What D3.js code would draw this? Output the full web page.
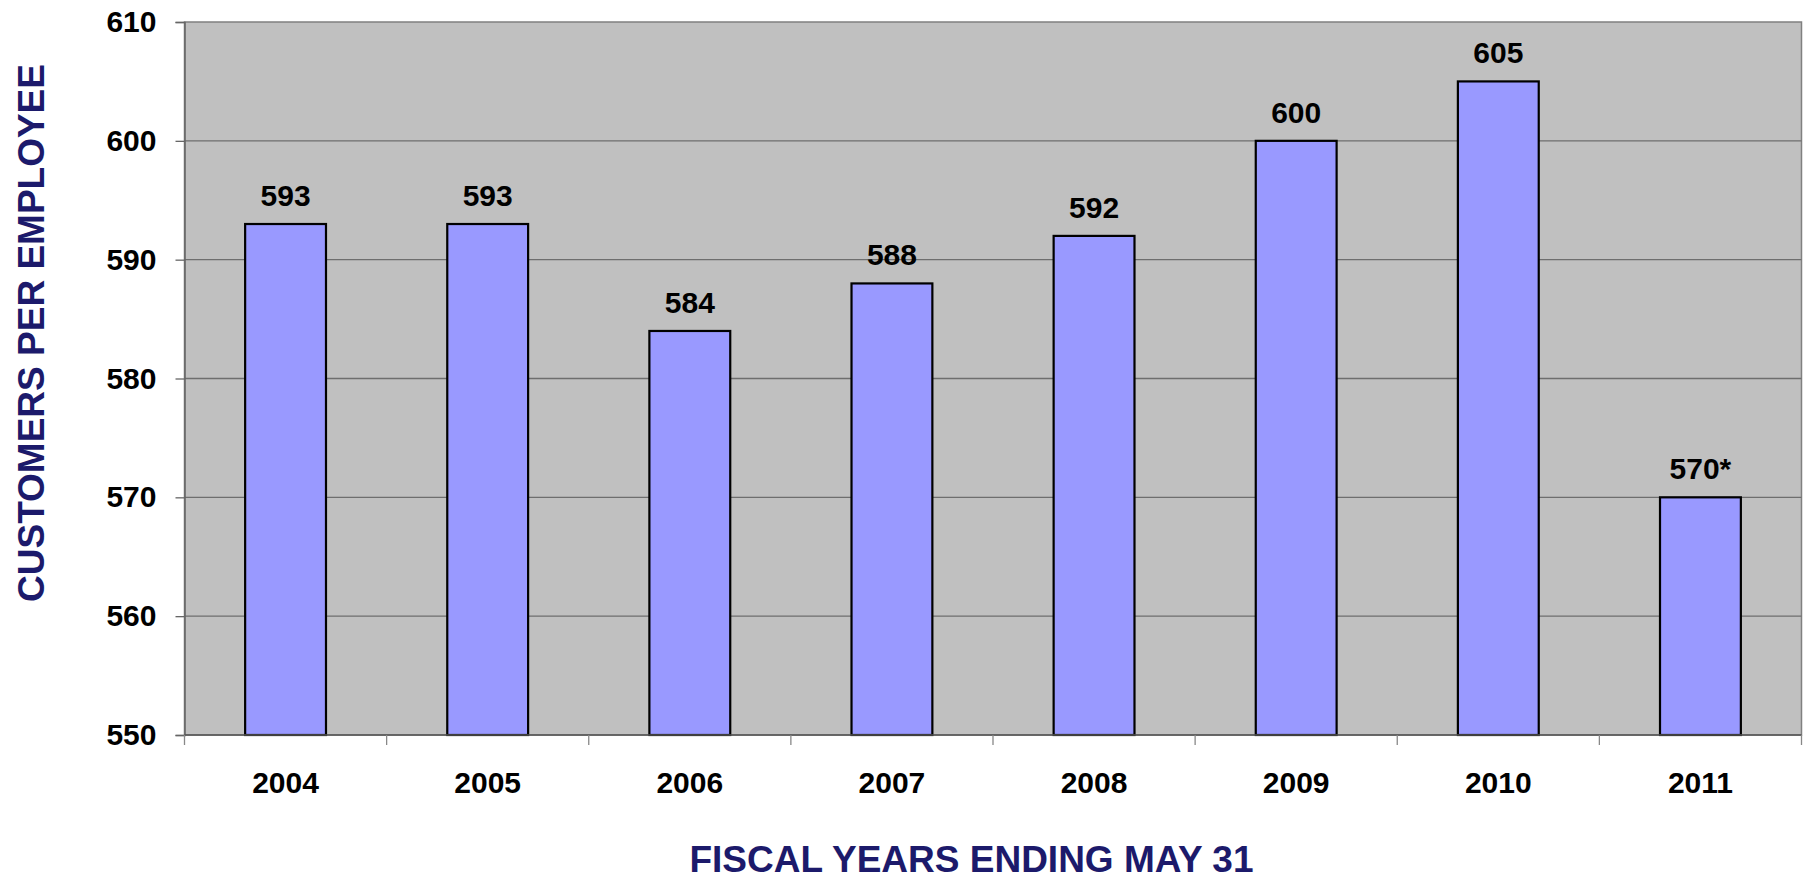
<!DOCTYPE html>
<html>
<head>
<meta charset="utf-8">
<script src="https://cdn.jsdelivr.net/npm/d3@7/dist/d3.min.js"></script>
<style>
  html, body { margin: 0; padding: 0; background: #ffffff; }
  svg { display: block; font-family: "Liberation Sans", Arial, sans-serif; font-weight: bold; }
</style>
</head>
<body>
<svg id="chart" width="1805" height="880"></svg>
<script>
// Customers per employee, by fiscal year
const years = ["2004", "2005", "2006", "2007", "2008", "2009", "2010", "2011"];
const customersPerEmployee = [593, 593, 584, 588, 592, 600, 605, 570];
const valueLabels = ["593", "593", "584", "588", "592", "600", "605", "570*"];
const yTicks = [550, 560, 570, 580, 590, 600, 610];

const plot = { left: 184.5, right: 1801.5, top: 22, bottom: 735 };
const svg = d3.select("#chart");

const x = d3.scaleBand()
  .domain(years)
  .range([plot.left, plot.right])
  .paddingInner(0.6)
  .paddingOuter(0.3);

const y = d3.scaleLinear()
  .domain([550, 610])
  .range([plot.bottom, plot.top]);

// plot background
svg.append("rect")
  .attr("x", plot.left).attr("y", plot.top)
  .attr("width", plot.right - plot.left).attr("height", plot.bottom - plot.top)
  .attr("fill", "#c0c0c0")
  .attr("stroke", "#808080").attr("stroke-width", 1.5);

// horizontal gridlines
svg.append("g")
  .selectAll("line")
  .data(yTicks.slice(1, -1))
  .join("line")
  .attr("x1", plot.left).attr("x2", plot.right)
  .attr("y1", d => y(d)).attr("y2", d => y(d))
  .attr("stroke", "#6e6e6e").attr("stroke-width", 1.3);

// y axis
const yAxis = svg.append("g")
  .attr("transform", `translate(${plot.left},0)`)
  .call(d3.axisLeft(y).tickValues(yTicks).tickSize(9).tickPadding(19).tickFormat(d3.format("d")));
yAxis.select(".domain").attr("stroke", "#666").attr("stroke-width", 1.5);
yAxis.selectAll(".tick line").attr("stroke", "#666").attr("stroke-width", 1.3);
yAxis.selectAll(".tick text")
  .attr("fill", "#000")
  .style("font-size", "30px")
  .style("font-family", "'Liberation Sans', Arial, sans-serif")
  .style("font-weight", "bold");

// bars
svg.append("g")
  .selectAll("rect")
  .data(years)
  .join("rect")
  .attr("x", d => x(d))
  .attr("y", (d, i) => y(customersPerEmployee[i]))
  .attr("width", x.bandwidth())
  .attr("height", (d, i) => y(550) - y(customersPerEmployee[i]))
  .attr("fill", "#9999ff")
  .attr("stroke", "#000")
  .attr("stroke-width", 2.2);

// value labels above bars
svg.append("g")
  .selectAll("text")
  .data(years)
  .join("text")
  .attr("x", d => x(d) + x.bandwidth() / 2)
  .attr("y", (d, i) => y(customersPerEmployee[i]) - 18)
  .attr("text-anchor", "middle")
  .attr("fill", "#000")
  .style("font-size", "30px")
  .text((d, i) => valueLabels[i]);

// x axis: ticks sit on category boundaries
const xAxisG = svg.append("g").attr("transform", `translate(0,${plot.bottom})`);
xAxisG.append("line")
  .attr("x1", plot.left).attr("x2", plot.right)
  .attr("stroke", "#555").attr("stroke-width", 1.5);
const boundaries = d3.range(years.length + 1).map(i => plot.left + i * x.step());
xAxisG.selectAll("line.tick")
  .data(boundaries)
  .join("line")
  .attr("class", "tick")
  .attr("x1", d => d).attr("x2", d => d)
  .attr("y1", 0).attr("y2", 10)
  .attr("stroke", "#888").attr("stroke-width", 1.3);
xAxisG.selectAll("text")
  .data(years)
  .join("text")
  .attr("x", d => x(d) + x.bandwidth() / 2)
  .attr("y", 58)
  .attr("text-anchor", "middle")
  .attr("fill", "#000")
  .style("font-size", "30px")
  .text(d => d);

// axis titles
svg.append("text")
  .attr("x", 971.5).attr("y", 872)
  .attr("text-anchor", "middle")
  .attr("fill", "#1c1a6b")
  .style("font-size", "37px")
  .text("FISCAL YEARS ENDING MAY 31");

svg.append("text")
  .attr("transform", "translate(44,333) rotate(-90)")
  .attr("text-anchor", "middle")
  .attr("fill", "#1c1a6b")
  .style("font-size", "37px")
  .text("CUSTOMERS PER EMPLOYEE");
</script>
</body>
</html>
